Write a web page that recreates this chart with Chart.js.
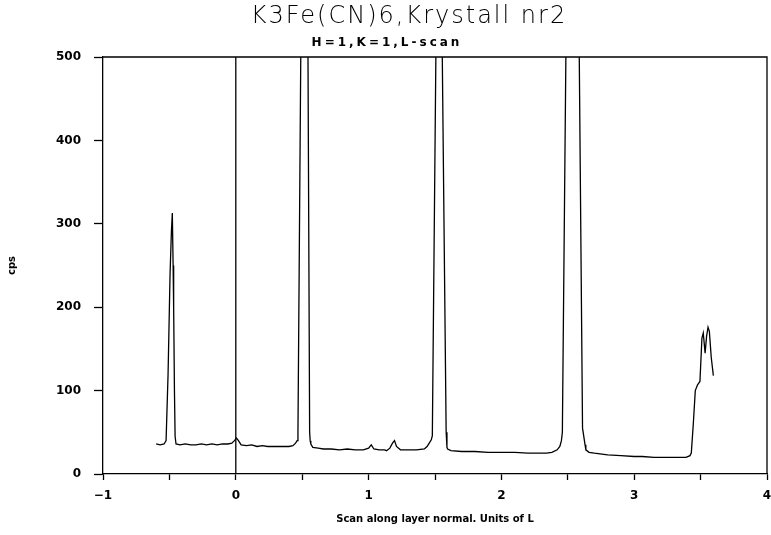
<!DOCTYPE html>
<html>
<head>
<meta charset="utf-8">
<script src="https://cdn.jsdelivr.net/npm/chart.js@4"></script>
<style>
html,body{margin:0;padding:0;background:#fff;}
#wrap{width:771px;height:535px;}
</style>
</head>
<body>
<div id="wrap"><canvas id="c" width="771" height="535"></canvas></div>
<script>
// ---- DATA ----
const chartTitle = "K3Fe(CN)6,Krystall nr2";
const chartSubtitle = "H=1,K=1,L-scan";
const xAxisTitle = "Scan along layer normal. Units of L";
const yAxisTitle = "cps";

const scanL = [
  -0.60,-0.57,-0.54,-0.525,-0.51,-0.495,-0.485,-0.478,-0.472,-0.468,-0.462,-0.457,-0.45,
  -0.42,-0.38,-0.34,-0.30,-0.26,-0.22,-0.18,-0.14,-0.10,-0.06,-0.03,-0.01,0.005,0.02,0.04,
  0.08,0.12,0.16,0.20,0.24,0.28,0.32,0.36,0.40,0.43,0.45,0.462,0.468,0.492,
  0.542,0.556,0.56,0.565,0.58,0.62,0.66,0.72,0.78,0.84,0.90,0.96,1.00,1.02,1.04,
  1.08,1.12,1.135,1.16,1.18,1.195,1.21,1.24,1.30,1.36,1.42,1.44,1.46,1.472,1.48,1.51,
  1.551,1.584,1.59,1.595,1.62,1.70,1.80,1.90,2.00,2.10,2.20,2.30,2.34,2.38,2.42,
  2.44,2.452,2.459,2.489,
  2.583,2.611,2.63,2.636,2.66,2.70,2.80,2.90,3.00,3.06,
  3.15,3.25,3.33,3.39,3.42,3.43,3.445,3.46,3.477,3.495,3.51,3.52,3.534,3.545,3.556,3.566,
  3.58,3.596
];
const scanCps = [
  36,35,36,40,120,240,290,313,250,200,100,45,36,
  35,36,35,35,36,35,36,35,36,36,37,40,43,40,35,
  34,35,33,34,33,33,33,33,33,34,37,40,50,560,
  560,50,40,36,32,31,30,30,29,30,29,29,31,35,30,
  29,29,28,31,37,40,33,29,29,29,30,33,38,41,46,560,
  560,50,32,30,28,27,27,26,26,26,25,25,25,26,29,
  33,40,50,560,
  560,55,35,29,26,25,23,22,21,21,
  20,20,20,20,22,25,60,100,107,111,163,169,145,165,176,171,
  140,118
];
// reference line at L = 0
const refL = [0, 0];
const refCps = [0, 500];

const xTickValues = [-1, 0, 1, 2, 3, 4];
const xTickLabels = ["\u22121", "0", "1", "2", "3", "4"];
const yTickValues = [0, 100, 200, 300, 400, 500];
const yTickLabels = ["0", "100", "200", "300", "400", "500"];

// ---- CHART ----
const toPts = (xs, ys) => xs.map((x, i) => ({x: x, y: ys[i]}));

const frame = {
  id: 'frame',
  afterDraw(chart) {
    const {ctx, chartArea: a} = chart;
    ctx.save();
    ctx.strokeStyle = '#000';
    ctx.lineWidth = 1.3;
    ctx.beginPath();
    ctx.moveTo(a.left, a.top); ctx.lineTo(a.right, a.top); ctx.lineTo(a.right, a.bottom);
    ctx.stroke();
    ctx.fillStyle = '#000';
    ctx.textBaseline = 'middle';
    ctx.textAlign = 'center';
    ctx.font = '300 24px "DejaVu Sans"';
    ctx.letterSpacing = '2px';
    ctx.fillText(chartTitle, 409, 17);
    ctx.font = 'bold 12px "DejaVu Sans"';
    ctx.letterSpacing = '3px';
    ctx.fillText(chartSubtitle, 387, 43);
    ctx.restore();
  }
};

new Chart(document.getElementById('c'), {
  type: 'scatter',
  data: {
    datasets: [
      {data: toPts(scanL, scanCps), showLine: true, borderColor: '#000', borderWidth: 1.3,
       pointRadius: 0, tension: 0},
      {data: toPts(refL, refCps), showLine: true, borderColor: '#000', borderWidth: 1.3,
       pointRadius: 0}
    ]
  },
  options: {
    responsive: false,
    animation: false,
    layout: {padding: {top: 57, right: 4, left: 0, bottom: 0}},
    plugins: {legend: {display: false}, tooltip: {enabled: false}},
    scales: {
      x: {
        type: 'linear', min: -1, max: 4,
        afterFit(s) { s.height = 61; s.paddingLeft = 0; s.paddingRight = 0; },
        afterBuildTicks(s) {
          const t = [];
          for (let v = -1; v <= 4.0001; v += 0.5) t.push({value: Math.round(v * 2) / 2});
          s.ticks = t;
        },
        ticks: {
          color: '#000', padding: 9, maxRotation: 0, autoSkip: false,
          font: {family: '"DejaVu Sans"', size: 12, weight: 'bold'},
          callback(v) { const i = xTickValues.indexOf(v); return i >= 0 ? xTickLabels[i] : ''; }
        },
        grid: {drawOnChartArea: false, drawTicks: true, tickLength: 6, tickColor: '#000', tickWidth: 1.3},
        border: {display: true, color: '#000', width: 1.3},
        title: {display: true, text: xAxisTitle, color: '#000',
                font: {family: '"DejaVu Sans"', size: 10, weight: 'bold'},
                padding: {top: 0, bottom: 10}}
      },
      y: {
        type: 'linear', min: 0, max: 500,
        afterFit(s) { s.width = 103; s.paddingTop = 0; s.paddingBottom = 0; },
        afterBuildTicks(s) { s.ticks = yTickValues.map(v => ({value: v})); },
        ticks: {
          color: '#000', padding: 13,
          font: {family: '"DejaVu Sans"', size: 12, weight: 'bold'},
          callback(v) { const i = yTickValues.indexOf(v); return i >= 0 ? yTickLabels[i] : ''; }
        },
        grid: {drawOnChartArea: false, drawTicks: true, tickLength: 9, tickColor: '#000', tickWidth: 1.3},
        border: {display: true, color: '#000', width: 1.3},
        title: {display: true, text: yAxisTitle, color: '#000',
                font: {family: '"DejaVu Sans"', size: 10, weight: 'bold'},
                padding: {top: 6, bottom: 0}}
      }
    }
  },
  plugins: [frame]
});
</script>
</body>
</html>
